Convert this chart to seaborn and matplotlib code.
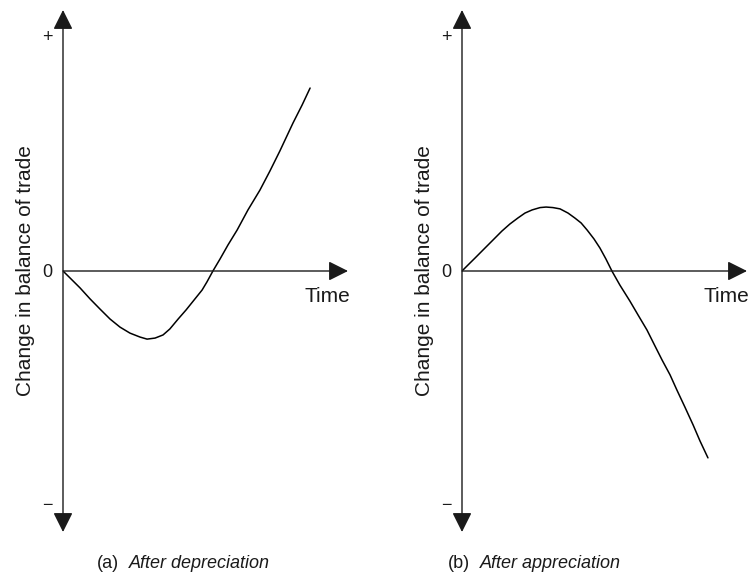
import matplotlib.pyplot as plt
import pandas as pd
import seaborn as sns

# (a) balance of trade after a depreciation (J-curve)
time_a = [0.00, 0.25, 0.60, 0.95, 1.30, 1.65, 2.00, 2.35, 2.70, 2.95, 3.23,
          3.51, 3.75, 4.04, 4.32, 4.60, 4.88, 5.05, 5.26, 5.51, 5.79, 6.11,
          6.49, 6.91, 7.26, 7.61, 8.07, 8.39, 8.67]
balance_a = [0.00, -0.27, -0.65, -1.07, -1.46, -1.84, -2.15, -2.38, -2.53, -2.61,
             -2.57, -2.45, -2.22, -1.84, -1.49, -1.11, -0.73, -0.42, 0.00, 0.46,
             1.00, 1.57, 2.34, 3.10, 3.83, 4.60, 5.67, 6.36, 7.01]

# (b) balance of trade after an appreciation (inverted J-curve)
time_b = [0.00, 0.21, 0.46, 0.77, 1.09, 1.40, 1.68, 1.96, 2.21, 2.46, 2.74,
          2.95, 3.19, 3.44, 3.72, 3.96, 4.18, 4.39, 4.63, 4.84, 5.05, 5.26,
          5.54, 5.89, 6.18, 6.49, 6.77, 7.02, 7.30, 7.54, 7.82, 8.11, 8.35, 8.63]
balance_b = [0.00, 0.23, 0.50, 0.84, 1.19, 1.53, 1.80, 2.03, 2.22, 2.34, 2.43,
             2.45, 2.43, 2.38, 2.22, 2.03, 1.84, 1.57, 1.23, 0.88, 0.46, 0.00,
             -0.54, -1.15, -1.69, -2.26, -2.87, -3.41, -3.98, -4.56, -5.21,
             -5.90, -6.51, -7.16]

panel_tags = ["(a)", "(b)"]
panel_titles = ["After depreciation", "After appreciation"]
y_label = "Change in balance of trade"
x_label = "Time"

AXIS_LEN = 10
INK = "#1a1a1a"

sns.set_theme(style="white")
plt.rcParams["font.family"] = ["Liberation Sans", "DejaVu Sans"]

W, H = 750, 576
fig = plt.figure(figsize=(W / 100, H / 100), dpi=100)

panels = [
    (63, time_a, balance_a, 97, 129),
    (462, time_b, balance_b, 448, 480),
]

for i, (x0, t, b, tag_x, title_x) in enumerate(panels):
    ax = fig.add_axes([x0 / W, 44 / H, 285 / W, 522 / H])
    ax.set_xlim(0, AXIS_LEN)
    ax.set_ylim(-AXIS_LEN, AXIS_LEN)

    head = "head_length=1.0,head_width=0.5"
    ax.annotate("", xy=(0, AXIS_LEN), xytext=(0, -AXIS_LEN),
                arrowprops=dict(arrowstyle=f"<|-|>,{head}", mutation_scale=12,
                                lw=1.0, color=INK, shrinkA=0, shrinkB=0))
    ax.annotate("", xy=(AXIS_LEN, 0), xytext=(0, 0),
                arrowprops=dict(arrowstyle=f"-|>,{head}", mutation_scale=12,
                                lw=1.0, color=INK, shrinkA=0, shrinkB=0))

    df = pd.DataFrame({"time": t, "balance": b})
    sns.lineplot(data=df, x="time", y="balance", sort=False, color="black",
                 lw=1.1, solid_joinstyle="round", solid_capstyle="round", ax=ax)
    ax.axis("off")

    ax.text(-0.55, 8.93, "+", ha="center", va="center", fontsize=13, color=INK)
    ax.text(-0.55, -0.05, "0", ha="center", va="center", fontsize=13, color=INK)
    ax.text(-0.55, -8.97, "\u2212", ha="center", va="center", fontsize=13, color=INK)
    ax.text(-1.32, 0, y_label, rotation=90, ha="center", va="center",
            fontsize=15, color=INK)
    ax.text(9.26, -0.96, x_label, ha="center", va="center", fontsize=15, color=INK)

    fig.text(tag_x / W, 1 - 563 / H, panel_tags[i], ha="left", va="center",
             fontsize=13, color=INK)
    fig.text(title_x / W, 1 - 563 / H, panel_titles[i], ha="left", va="center",
             fontsize=13, style="italic", color=INK)

fig.savefig("out.png", dpi=100)
